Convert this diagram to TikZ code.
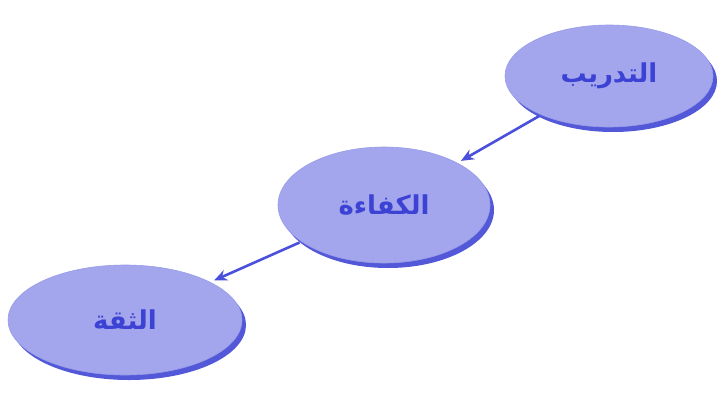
\documentclass[tikz,border=0pt]{standalone}
\usepackage{fontspec}
\newfontfamily\arabicfont[Script=Arabic]{DejaVu Sans}
\TeXXeTstate=1
\usetikzlibrary{shapes.geometric,arrows.meta,shadows}
\definecolor{fillblue}{HTML}{A3A6EC}
\definecolor{rimblue}{HTML}{5258D8}
\definecolor{txtblue}{HTML}{3C42D4}
\definecolor{arrblue}{HTML}{4A50DC}
\tikzset{
  bubble/.style={ellipse, minimum width=#1, fill=fillblue, draw=rimblue!60, line width=0.6pt,
    drop shadow={shadow xshift=4pt, shadow yshift=-5pt, fill=rimblue, opacity=1},
    font=\arabicfont\bfseries\fontsize{26}{30}\selectfont, text=txtblue, inner sep=0pt},
  link/.style={-{Stealth[length=13pt,width=11pt]}, arrblue, line width=2.6pt, shorten <=2pt, shorten >=4pt}
}
\begin{document}
\begin{tikzpicture}[x=1pt,y=-1pt]
\useasboundingbox (0,0) rectangle (717,394);
\node[bubble=208pt, minimum height=102pt] (train) at (609,76) {\beginR التدريب\endR};
\node[bubble=212pt, minimum height=116pt] (comp) at (384,205) {\beginR الكفاءة\endR};
\node[bubble=234pt, minimum height=110pt] (conf) at (125,320) {\beginR الثقة\endR};
\draw[link] (train) -- (comp);
\draw[link] (comp) -- (conf);
\end{tikzpicture}
\end{document}
